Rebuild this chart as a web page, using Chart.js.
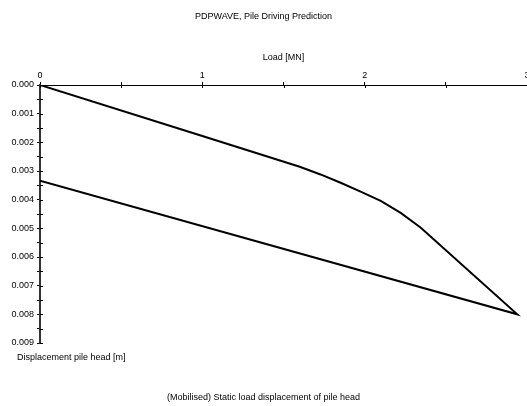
<!DOCTYPE html>
<html>
<head>
<meta charset="utf-8">
<script src="https://cdn.jsdelivr.net/npm/chart.js@4.4.1/dist/chart.umd.min.js"></script>
<style>
  html, body { margin: 0; padding: 0; background: #fff; }
  #wrap { width: 527px; height: 406px; }
</style>
</head>
<body>
<div id="wrap"><canvas id="myChart" width="527" height="406"></canvas></div>
<script>
// load [MN] and pile head displacement [m], loading then unloading
let loadMN = [0, 1.0, 1.6, 1.728, 1.852, 1.975, 2.099, 2.222, 2.346, 2.94, 0];
let dispM  = [0, 0.00178, 0.00285, 0.00312, 0.00341, 0.00372, 0.00404, 0.00446, 0.00498, 0.0080, 0.00334];

let xTicks = ['0', '1', '2', '3'];
let yTicks = ['0.000', '0.001', '0.002', '0.003', '0.004', '0.005', '0.006', '0.007', '0.008', '0.009'];

Chart.defaults.font.family = "'Liberation Sans', Arial, sans-serif";
Chart.defaults.font.size = 9;
Chart.defaults.color = '#000';

// label only every second tick (the others are minor ticks)
function majorLabel(v, step, labels) {
    let k = Math.round(v / step);
    return k % 2 ? '' : labels[k / 2];
}

// small tick marks on the inside of the axes too
const innerTicks = {
    id: 'innerTicks',
    afterDraw(chart) {
        const ctx = chart.ctx;
        const x = chart.scales.x, y = chart.scales.y;
        ctx.save();
        ctx.strokeStyle = '#000';
        ctx.lineWidth = 1;
        ctx.beginPath();
        x.ticks.forEach(t => {
            let px = Math.round(x.getPixelForValue(t.value)) + 0.5;
            ctx.moveTo(px, x.bottom);
            ctx.lineTo(px, x.bottom + 3);
        });
        y.ticks.forEach(t => {
            let py = Math.round(y.getPixelForValue(t.value)) + 0.5;
            ctx.moveTo(y.right, py);
            ctx.lineTo(y.right + 3, py);
        });
        ctx.stroke();
        // y axis title sits under the axis
        ctx.fillStyle = '#000';
        ctx.font = "9px 'Liberation Sans', Arial, sans-serif";
        ctx.textAlign = 'left';
        ctx.textBaseline = 'middle';
        ctx.fillText('Displacement pile head [m]', 17, y.bottom + 15);
        ctx.restore();
    }
};

let myChart = document.getElementById('myChart').getContext('2d');
let pileChart = new Chart(myChart, {
    type: 'scatter',
    data: {
        datasets: [{
            label: 'Static load displacement',
            data: loadMN.map((v, i) => ({ x: v, y: dispM[i] })),
            showLine: true,
            borderColor: '#000',
            borderWidth: 2,
            pointRadius: 0,
            tension: 0
        }]
    },
    options: {
        responsive: false,
        animation: false,
        layout: { padding: 0 },
        plugins: {
            legend: { display: false },
            tooltip: { enabled: false },
            title: {
                display: true,
                text: 'PDPWAVE, Pile Driving Prediction',
                font: { size: 9, weight: 'normal' },
                padding: { top: 11, bottom: 0 }
            },
            subtitle: {
                display: true,
                position: 'bottom',
                text: '(Mobilised) Static load displacement of pile head',
                font: { size: 9 },
                padding: { top: 49.6, bottom: 2.6 }
            }
        },
        scales: {
            x: {
                type: 'linear',
                position: 'top',
                min: 0,
                max: 3,
                afterFit(s) { s.height = 63.2; s.paddingLeft = 0; s.paddingRight = 0; },
                ticks: {
                    stepSize: 0.5,
                    padding: 1,
                    maxRotation: 0,
                    callback: v => majorLabel(v, 0.5, xTicks)
                },
                grid: { drawOnChartArea: false, tickLength: 3, color: '#000' },
                border: { color: '#000', width: 1 },
                title: { display: true, text: 'Load [MN]', padding: { top: 30.8, bottom: 0 } }
            },
            y: {
                type: 'linear',
                reverse: true,
                min: 0,
                max: 0.009,
                afterFit(s) { s.width = 40; s.paddingTop = 0; s.paddingBottom = 0; },
                ticks: {
                    stepSize: 0.0005,
                    padding: 3,
                    callback: v => majorLabel(v, 0.0005, yTicks)
                },
                grid: { drawOnChartArea: false, tickLength: 3, color: '#000' },
                border: { color: '#333', width: 2 }
            }
        }
    },
    plugins: [innerTicks]
});
</script>
</body>
</html>
